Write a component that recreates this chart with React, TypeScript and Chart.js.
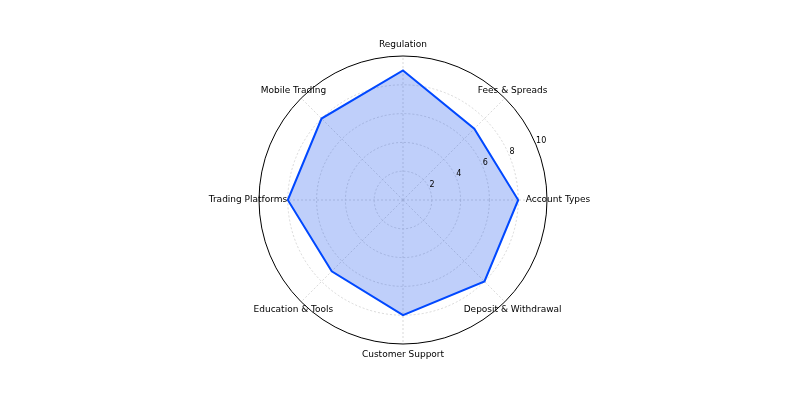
import React, { useEffect, useRef } from "react";
import { Chart, registerables } from "chart.js";

Chart.register(...registerables);

const categories = [
  "Regulation",
  "Fees & Spreads",
  "Account Types",
  "Deposit & Withdrawal",
  "Customer Support",
  "Education & Tools",
  "Trading Platforms",
  "Mobile Trading",
];
const scores = [9, 7, 8, 8, 8, 7, 8, 8];
const radialTicks = [2, 4, 6, 8, 10];

const FONT = "'DejaVu Sans', 'Liberation Sans', sans-serif";

const labelPlugin = {
  id: "mplLabels",
  afterDraw(chart: any) {
    const scale = chart.scales.r;
    const ctx = chart.ctx;
    ctx.save();
    ctx.fillStyle = "#000";
    // radial tick labels at 22.5 degrees
    ctx.font = `8px ${FONT}`;
    ctx.textAlign = "left";
    ctx.textBaseline = "bottom";
    const a = (22.5 * Math.PI) / 180;
    radialTicks.forEach((v) => {
      const d = scale.getDistanceFromCenterForValue(v);
      const x = scale.xCenter + d * Math.cos(a);
      const y = scale.yCenter - d * Math.sin(a);
      ctx.fillText(String(v), x, y);
    });
    // category labels
    ctx.font = `9px ${FONT}`;
    ctx.textAlign = "center";
    ctx.textBaseline = "middle";
    categories.forEach((c, i) => {
      const p = scale.getPointPosition(i, scale.drawingArea + 11);
      ctx.fillText(c, p.x, p.y);
    });
    ctx.restore();
  },
};

export default function App() {
  const ref = useRef<HTMLCanvasElement | null>(null);
  useEffect(() => {
    if (!ref.current) return;
    const chart = new Chart(ref.current, {
      type: "radar",
      data: {
        labels: categories,
        datasets: [
          {
            data: scores,
            borderColor: "rgb(0, 72, 255)",
            backgroundColor: "rgba(0, 64, 235, 0.25)",
            borderWidth: 2,
            pointRadius: 0,
            pointHoverRadius: 0,
            fill: true,
            tension: 0,
          },
        ],
      },
      options: {
        animation: false,
        responsive: true,
        maintainAspectRatio: false,
        layout: { padding: { top: 56, bottom: 56, left: 6, right: 0 } },
        plugins: {
          legend: { display: false },
          tooltip: { enabled: false },
        },
        scales: {
          r: {
            min: 0,
            max: 10,
            ticks: { display: false, stepSize: 2 },
            pointLabels: { display: false },
            grid: {
              circular: true,
              color: (c: any) => (c.tick && c.tick.value === 10 ? "#000" : "#cfcfcf"),
              lineWidth: (c: any) => (c.tick && c.tick.value === 10 ? 1 : 0.8),
            },
            border: {
              dash: (c: any) => (c.tick && c.tick.value === 10 ? [] : [2, 2]),
            },
            angleLines: {
              display: true,
              color: "#cfcfcf",
              lineWidth: 0.8,
              borderDash: [2, 2],
            },
          },
        },
      } as any,
      plugins: [labelPlugin],
    });
    return () => chart.destroy();
  }, []);
  return (
    <div style={{ position: "absolute", left: 0, top: 0, width: 800, height: 400 }}>
      <canvas ref={ref} />
    </div>
  );
}
